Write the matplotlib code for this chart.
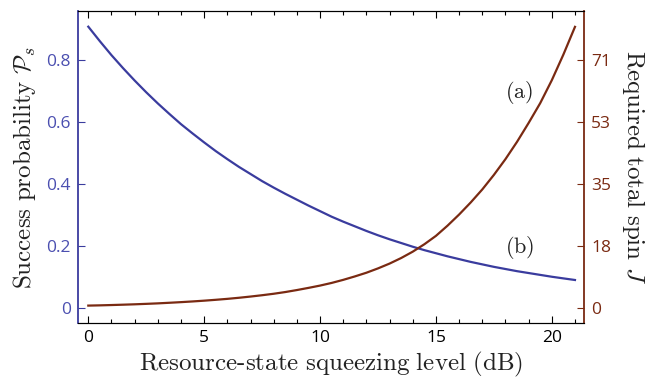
import matplotlib
matplotlib.use('Agg')
import matplotlib.pyplot as plt
import numpy as np

# squeezing level in dB, read every half dB
squeezing_db = np.arange(0, 21.5, 0.5)

# (b) success probability P_s
success_prob = [0.908, 0.861, 0.816, 0.774, 0.734, 0.696, 0.660, 0.626, 0.593, 0.563,
                0.534, 0.506, 0.480, 0.455, 0.432, 0.409, 0.388, 0.368, 0.349, 0.330,
                0.312, 0.294, 0.278, 0.263, 0.248, 0.234, 0.221, 0.209, 0.197, 0.186,
                0.176, 0.166, 0.157, 0.148, 0.140, 0.132, 0.125, 0.118, 0.112, 0.106,
                0.100, 0.0947, 0.0895]

# (a) required total spin J
total_spin = [0.60, 0.67, 0.76, 0.86, 0.97, 1.10, 1.24, 1.41, 1.59, 1.79,
              2.01, 2.26, 2.53, 2.84, 3.19, 3.57, 3.99, 4.48, 5.05, 5.67,
              6.33, 7.09, 7.97, 8.95, 10.01, 11.25, 12.63, 14.22, 16.04, 18.16,
              20.56, 23.48, 26.67, 30.12, 33.85, 38.01, 42.53, 47.49, 52.89, 58.56,
              65.12, 72.47, 80.40]

left_ticks = [0, 0.2, 0.4, 0.6, 0.8]
left_labels = ['0', '0.2', '0.4', '0.6', '0.8']
right_labels = ['0', '18', '35', '53', '71']
spin_scale = 88.6  # right axis value that sits at 1.0 on the left axis

blue = '#3a3c9e'
blue_txt = '#4b4fb0'
brown = '#7a2a12'

plt.rcParams['mathtext.fontset'] = 'cm'
tick_font = 'Open Sans'

fig = plt.figure(figsize=(6.62, 3.79), dpi=100)
ax = fig.add_axes([0.1178, 0.1478, 0.7644, 0.8232])
ax2 = ax.twinx()

ax.plot(squeezing_db, success_prob, color=blue, lw=1.6)
ax2.plot(squeezing_db, total_spin, color=brown, lw=1.6)

ylo, yhi = -0.0494, 0.9587
ax.set_xlim(-0.445, 21.39)
ax.set_ylim(ylo, yhi)
ax2.set_ylim(ylo * spin_scale, yhi * spin_scale)

ax.set_xticks([0, 5, 10, 15, 20])
ax.set_xticks(np.arange(0, 22), minor=True)
ax.set_xticklabels(['0', '5', '10', '15', '20'], family=tick_font, fontsize=12.5)
ax.set_yticks(left_ticks)
ax.set_yticklabels(left_labels, family=tick_font, fontsize=12.5, color=blue_txt)
ax2.set_yticks([t * spin_scale for t in left_ticks])
ax2.set_yticklabels(right_labels, family=tick_font, fontsize=12.5, color=brown)

ax.tick_params(axis='x', which='both', direction='in', top=True, width=0.8)
ax.tick_params(axis='x', which='major', length=5, pad=5)
ax.tick_params(axis='x', which='minor', length=3)
ax.tick_params(axis='y', direction='in', length=5, color=blue, pad=5)
ax2.tick_params(axis='y', direction='in', length=5, color=brown, pad=5)

ax.spines['left'].set_color(blue)
ax.spines['left'].set_linewidth(1.3)
ax2.spines['left'].set_visible(False)
ax2.spines['right'].set_color(brown)
ax2.spines['right'].set_linewidth(1.3)
ax.spines['right'].set_visible(False)

ax.set_xlabel(r'$\mathrm{Resource\text{-}state\ squeezing\ level\ (dB)}$', fontsize=18,
              color='#222222', labelpad=3)
ax.set_ylabel(r'$\mathrm{Success\ probability}\ \mathcal{P}_s$', fontsize=18, color='#222222',
              labelpad=6)
ax2.set_ylabel(r'$\mathrm{Required\ total\ spin}\ J$', fontsize=18, color='#222222',
               rotation=270, labelpad=26)

ax.text(18.6, 0.694, r'$\mathrm{(a)}$', fontsize=16, ha='center', va='center', color='#222222')
ax.text(18.6, 0.196, r'$\mathrm{(b)}$', fontsize=16, ha='center', va='center', color='#222222')

fig.savefig('out.png', dpi=100)
